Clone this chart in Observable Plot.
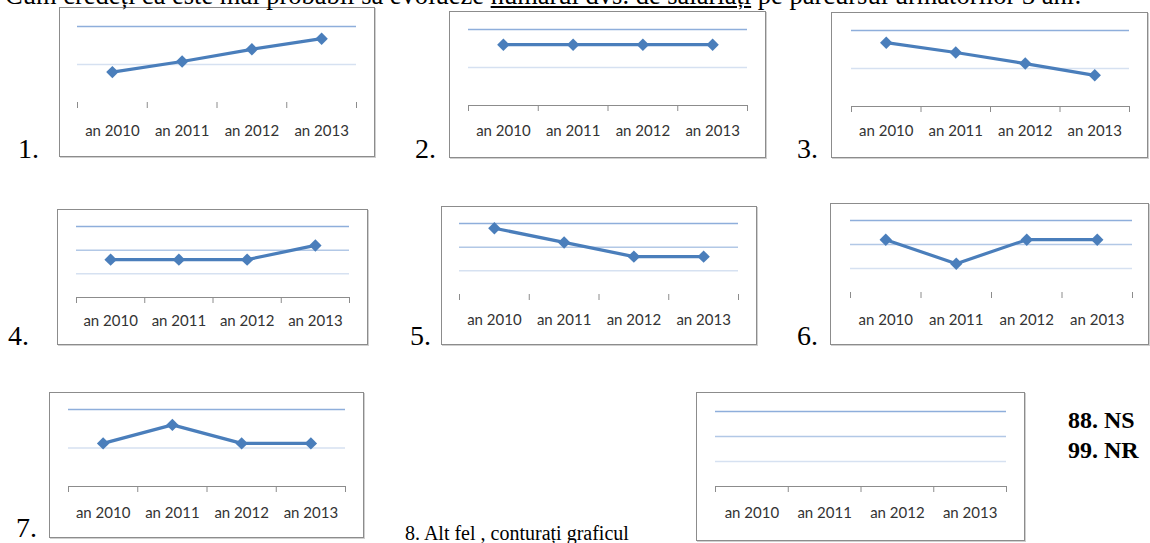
<!DOCTYPE html>
<html><head><meta charset="utf-8">
<script src="https://cdn.jsdelivr.net/npm/d3@7"></script>
<script src="https://cdn.jsdelivr.net/npm/@observablehq/plot@0.6"></script>
<style>
html,body{margin:0;padding:0;background:#fff;}
body{width:1150px;height:543px;overflow:hidden;position:relative;font-family:"Liberation Serif","Times New Roman",serif;color:#000;}
.box{position:absolute;border:1px solid #8c8c8c;box-sizing:border-box;background:#fff;box-shadow:1px 1px 0 #d0d0d0;}
.box svg{position:absolute;left:-1px;top:-1px;}
.t{position:absolute;white-space:nowrap;line-height:1;}
u{text-decoration-thickness:2px;text-underline-offset:2px;}
</style></head><body>
<script>
// ---- data ----
const years = ["an 2010", "an 2011", "an 2012", "an 2013"];
const values1 = [0.8, 1.08, 1.4, 1.68];
const values2 = [1.6, 1.6, 1.6, 1.6];
const values3 = [1.68, 1.42, 1.13, 0.82];
const values4 = [1.6, 1.6, 1.6, 2.2];
const values5 = [2.8, 2.2, 1.6, 1.6];
const values6 = [2.2, 1.2, 2.2, 2.2];
const values7 = [1.12, 1.6, 1.12, 1.12];
const values8 = [];
const gridMax = [2, 2, 2, 3, 3, 3, 2, 3];
const optionLabels = ["1.", "2.", "3.", "4.", "5.", "6.", "7."];
const headerBefore = "Cum credeți că este mai probabil să evolueze ";
const headerUnderlined = "numărul dvs. de salariați";
const headerAfter = " pe parcursul următorilor 3 ani:";
const otherLabel = "8. Alt fel , conturați graficul";
const extraLabels = ["88. NS", "99. NR"];

// ---- layout (page pixels) ----
const layout = [
  {L:59, T:7, R:375, B:157, x0:77, x1:356, yTop:26, yBase:102, labelY:130, base:false},
  {L:449, T:11, R:766, B:158, x0:468, x1:747, yTop:29, yBase:105, labelY:130, base:true},
  {L:831, T:12, R:1148, B:158, x0:851, x1:1129, yTop:30, yBase:106, labelY:130, base:true},
  {L:57, T:209, R:368, B:345, x0:76, x1:349, yTop:226, yBase:297, labelY:320, base:true},
  {L:441, T:206, R:757, B:345, x0:459, x1:738, yTop:223, yBase:294, labelY:319, base:false},
  {L:830, T:203, R:1149, B:345, x0:850, x1:1132, yTop:220, yBase:292, labelY:319, base:false},
  {L:49, T:392, R:364, B:538, x0:68, x1:345, yTop:409, yBase:486, labelY:512, base:true},
  {L:696, T:392, R:1025, B:541, x0:715, x1:1006, yTop:411, yBase:486, labelY:512, base:true}
];
const allValues = [values1, values2, values3, values4, values5, values6, values7, values8];
const lineColor = "#4a7ebb";
const gridDark = "#8eaedb", gridLight = "#d6e1f1";

function addText(html, left, baseline, fs, extra) {
  const d = document.createElement("div");
  d.className = "t";
  d.style.left = left + "px";
  d.style.top = (baseline - 0.8375 * fs) + "px";
  d.style.fontSize = fs + "px";
  if (extra) Object.assign(d.style, extra);
  d.innerHTML = html;
  document.body.appendChild(d);
}

layout.forEach((p, k) => {
  const n = gridMax[k];
  const W = p.R - p.L, H = p.B - p.T;
  const data = allValues[k].map((v, i) => ({year: years[i], i, v}));
  const gridVals = d3.range(1, n + 1);
  const gridColor = v => d3.interpolateRgb(gridDark, gridLight)((n - v) / (n - 1));
  const marks = [
    Plot.ruleY(gridVals, {y: d => d, stroke: gridColor, strokeWidth: 1.5}),
  ];
  if (p.base) marks.push(Plot.ruleY([0], {stroke: "#8c8c8c", strokeWidth: 1}));
  marks.push(Plot.axisX({ticks: d3.range(years.length + 1), tickSize: 6, tickFormat: () => "", stroke: "#8c8c8c"}));
  marks.push(Plot.axisX({ticks: years.map((d, i) => i + 0.5), tickSize: 0, tickPadding: p.labelY - p.yBase - 5,
    tickFormat: t => years[Math.floor(t)], fill: "#333"}));
  if (data.length) {
    marks.push(Plot.line(data, {x: d => d.i + 0.5, y: "v", stroke: lineColor, strokeWidth: 3.2}));
    marks.push(Plot.dot(data, {x: d => d.i + 0.5, y: "v", symbol: "diamond2", r: 5.6, fill: lineColor, stroke: null}));
  }
  const chart = Plot.plot({
    width: W, height: H,
    marginLeft: p.x0 - p.L, marginRight: p.R - p.x1,
    marginTop: p.yTop - p.T, marginBottom: p.B - p.yBase,
    x: {domain: [0, years.length], label: null},
    y: {domain: [0, n], axis: null},
    color: {type: "identity"},
    style: {maxWidth: "none", background: "transparent", overflow: "visible", fontFamily: "Lato, 'Open Sans', sans-serif", fontSize: "15px"},
    marks
  });
  const box = document.createElement("div");
  box.className = "box";
  Object.assign(box.style, {left: p.L + "px", top: p.T + "px", width: W + "px", height: H + "px"});
  box.appendChild(chart);
  document.body.appendChild(box);
});

// ---- texts ----
addText(headerBefore + "<u>" + headerUnderlined + "</u>" + headerAfter, 5, 4, 26.5);
const numPos = [[18,158],[415,158],[797,158],[8,345],[410,345],[797,345],[16,537]];
optionLabels.forEach((s, i) => addText(s, numPos[i][0], numPos[i][1], 28));
addText(otherLabel, 405, 540, 20);
addText(extraLabels[0], 1068, 428, 24, {fontWeight: "bold"});
addText(extraLabels[1], 1068, 458, 24, {fontWeight: "bold"});
</script>
</body></html>
